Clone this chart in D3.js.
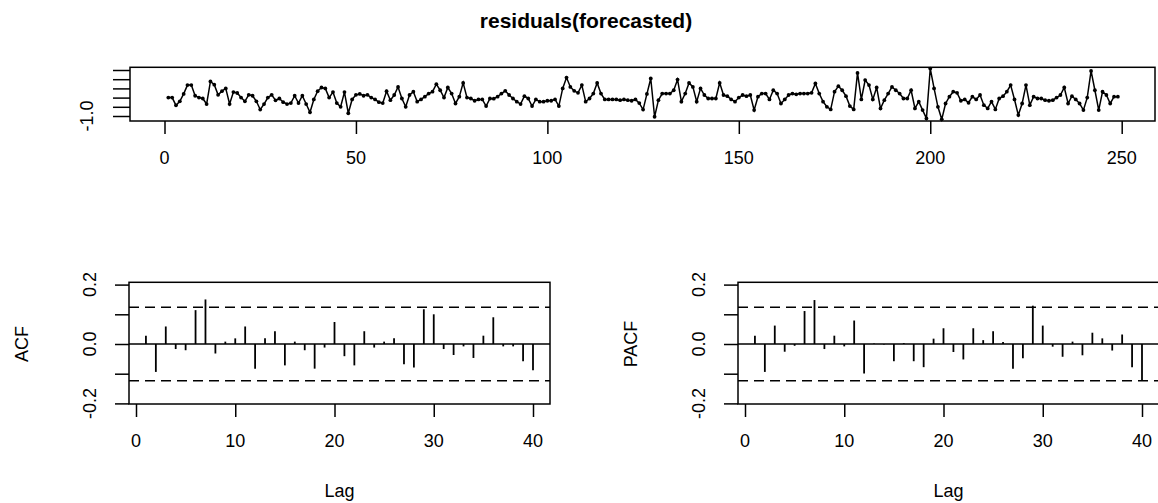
<!DOCTYPE html>
<html><head><meta charset="utf-8">
<script src="https://cdnjs.cloudflare.com/ajax/libs/d3/7.8.5/d3.min.js"></script>
<style>
html,body{margin:0;padding:0;background:#fff;}
svg{display:block;}
text{font-family:"Liberation Sans",Arial,Helvetica,sans-serif;fill:#000;}
</style></head>
<body><svg id="c" width="1158" height="503"></svg>
<script>
// ---------- data ----------
const titleText = "residuals(forecasted)";
const residuals = [
 0.00, 0.00,-0.42,-0.20, 0.20, 0.68, 0.68, 0.10, 0.00,-0.05,
-0.35, 0.88, 0.70, 0.15, 0.35, 0.50,-0.35, 0.30, 0.25, 0.00,
-0.20, 0.15, 0.10,-0.20,-0.65,-0.35, 0.00, 0.15,-0.15,-0.05,
-0.25,-0.35,-0.30, 0.10,-0.30, 0.10,-0.35,-0.80,-0.10, 0.35,
 0.55, 0.50, 0.00, 0.30,-0.30,-0.50, 0.30,-0.85,-0.10, 0.15,
 0.20, 0.10, 0.15, 0.00,-0.10,-0.25,-0.30, 0.35,-0.14, 0.14,
 0.58,-0.05,-0.50, 0.14, 0.32,-0.22,-0.10, 0.05, 0.22, 0.32,
 0.73, 0.40, 0.00, 0.55, 0.22,-0.32, 0.05, 0.80, 0.00,-0.05,
-0.17,-0.10,-0.10,-0.46,-0.05,-0.06, 0.05, 0.22, 0.37, 0.14,
-0.05,-0.22,-0.35, 0.08,-0.05,-0.46,-0.10,-0.22,-0.22,-0.17,
-0.17,-0.10,-0.46, 0.50, 1.09, 0.58, 0.37, 0.26, 0.68,-0.22,
-0.05, 0.22, 0.80, 0.22,-0.10,-0.10,-0.10,-0.10,-0.14,-0.10,
-0.14,-0.17,-0.10,-0.30,-0.65, 0.20, 1.04,-1.04,-0.14, 0.22,
 0.22, 0.22, 0.40, 0.98,-0.22, 0.22, 0.80, 0.58,-0.22, 0.50,
 0.14,-0.05,-0.05,-0.05, 0.80, 0.14, 0.08,-0.10,-0.22, 0.00,
 0.14, 0.08, 0.14,-0.68, 0.05, 0.22, 0.22,-0.10, 0.40, 0.22,
-0.32,-0.10, 0.14, 0.22, 0.18, 0.22, 0.22, 0.22, 0.26, 0.77,
 0.22,-0.22,-0.50,-0.64, 0.32, 0.62, 0.40, 0.08,-0.46,-0.64,
 1.34,-0.10, 0.95, 0.68,-0.10, 0.55,-0.59,-0.14, 0.22, 0.58,
 0.40, 0.22,-0.05,-0.05, 0.40,-0.59,-0.22,-0.68,-1.13, 1.58,
 0.50,-0.50,-1.18,-0.32, 0.05, 0.32, 0.26,-0.17,-0.10,-0.28,
 0.05,-0.10, 0.14,-0.41,-0.59,-0.22,-0.64,-0.05, 0.08, 0.32,
 0.68,-0.10,-0.95,-0.32, 0.68,-0.41, 0.05,-0.05,-0.05,-0.14,
-0.17,-0.14, 0.00, 0.14, 0.55,-0.32, 0.08,-0.10,-0.32,-0.68,
 0.00, 1.45, 0.40,-0.68, 0.32, 0.14,-0.32, 0.05, 0.05
];
const topXTicks = [0, 50, 100, 150, 200, 250];
const topYTicks = [-1.0, -0.5, 0.0, 0.5, 1.0, 1.5];
const topYLabels = ["-1.0", "", "", "", "", ""];

const lags = d3.range(1, 41);
const acfValues = [
 0.028,-0.094, 0.059,-0.017,-0.021, 0.114, 0.150,-0.032, 0.008, 0.019,
 0.059,-0.083, 0.019, 0.043,-0.072, 0.008,-0.021,-0.083,-0.012, 0.074,
-0.041,-0.072, 0.043,-0.012, 0.008, 0.019,-0.068,-0.079, 0.117, 0.100,
-0.017,-0.037,-0.008,-0.047, 0.028, 0.090,-0.008,-0.008,-0.058,-0.088
];
const pacfValues = [
 0.028,-0.094, 0.062,-0.026,-0.006, 0.111, 0.148,-0.017, 0.028,-0.008,
 0.079,-0.099, 0.002,-0.002,-0.058, 0.003,-0.058,-0.078, 0.018, 0.053,
-0.027,-0.052, 0.053, 0.013, 0.043, 0.007,-0.083,-0.048, 0.129, 0.062,
-0.009,-0.043, 0.008,-0.038, 0.038, 0.019,-0.022, 0.032,-0.078,-0.122
];
const ciBound = 1.96 / Math.sqrt(250);
const lagTicks = [0, 10, 20, 30, 40];
const corrTicks = [-0.2, -0.1, 0.0, 0.1, 0.2];
const corrLabels = ["-0.2", "", "0.0", "", "0.2"];

// ---------- drawing ----------
const svg = d3.select("#c");
const FS = 18;
const LW = 1.5;

svg.append("text").attr("x", 586).attr("y", 28).attr("text-anchor", "middle")
  .style("font-size", "21px").style("font-weight", "bold").text(titleText);

// ---- top panel ----
const topBox = {l:130, r:1155, t:67.3, b:121};
const xT = d3.scaleLinear().domain([0, 250]).range([164.5, 1121.7]);
const yT = d3.scaleLinear().domain([-1.0, 1.5]).range([116, 70]);

const gTop = svg.append("g");
const line = d3.line().x((d,i)=>xT(i+1)).y(d=>yT(d));
gTop.append("path").datum(residuals).attr("d", line)
  .attr("fill","none").attr("stroke","#000").attr("stroke-width",1.5);
gTop.selectAll("circle").data(residuals).join("circle")
  .attr("cx",(d,i)=>xT(i+1)).attr("cy",d=>yT(d)).attr("r",1.9).attr("fill","#000");
gTop.append("rect").attr("x",topBox.l).attr("y",topBox.t)
  .attr("width",topBox.r-topBox.l).attr("height",topBox.b-topBox.t)
  .attr("fill","none").attr("stroke","#000").attr("stroke-width",LW);

const axTB = gTop.append("g").attr("transform",`translate(0,${topBox.b})`)
  .call(d3.axisBottom(xT).tickValues(topXTicks).tickSize(13).tickSizeOuter(0).tickFormat(""));
const axTL = gTop.append("g").attr("transform",`translate(${topBox.l},0)`)
  .call(d3.axisLeft(yT).tickValues(topYTicks).tickSize(17).tickSizeOuter(0).tickFormat(""));
[axTB, axTL].forEach(a=>{a.select(".domain").remove(); a.selectAll("line").attr("stroke-width",LW);});
gTop.selectAll(".xl").data(topXTicks).join("text")
  .attr("x",d=>xT(d)).attr("y",164).attr("text-anchor","middle").style("font-size",FS+"px").text(d=>d);
gTop.selectAll(".yl").data(topYTicks.map((v,i)=>({v, s:topYLabels[i]})).filter(d=>d.s)).join("text")
  .attr("transform",d=>`translate(${93},${yT(d.v)}) rotate(-90)`)
  .attr("text-anchor","middle").style("font-size",FS+"px").text(d=>d.s);

// ---- correlogram panels ----
function corrPanel(off, values, ylabel) {
  const box = {l:129+off, r:550+off, t:282.3, b:404};
  const x = d3.scaleLinear().domain([0,40]).range([136+off, 533+off]);
  const y = d3.scaleLinear().domain([-0.2,0.2]).range([403.4, 284.6]);
  const g = svg.append("g");
  g.append("line").attr("x1",box.l).attr("x2",box.r).attr("y1",y(0)).attr("y2",y(0))
    .attr("stroke","#000").attr("stroke-width",LW);
  [ciBound, -ciBound].forEach(c=>{
    g.append("line").attr("x1",box.l).attr("x2",box.r).attr("y1",y(c)).attr("y2",y(c))
      .attr("stroke","#000").attr("stroke-width",LW).attr("stroke-dasharray","10,6");
  });
  g.selectAll(".sp").data(values).join("line")
    .attr("x1",(d,i)=>x(lags[i])).attr("x2",(d,i)=>x(lags[i]))
    .attr("y1",y(0)).attr("y2",d=>y(d))
    .attr("stroke","#000").attr("stroke-width",LW+0.3);
  g.append("rect").attr("x",box.l).attr("y",box.t).attr("width",box.r-box.l).attr("height",box.b-box.t)
    .attr("fill","none").attr("stroke","#000").attr("stroke-width",LW);
  const ab = g.append("g").attr("transform",`translate(0,${box.b})`)
    .call(d3.axisBottom(x).tickValues(lagTicks).tickSize(13).tickSizeOuter(0).tickFormat(""));
  const al = g.append("g").attr("transform",`translate(${box.l},0)`)
    .call(d3.axisLeft(y).tickValues(corrTicks).tickSize(14).tickSizeOuter(0).tickFormat(""));
  [ab, al].forEach(a=>{a.select(".domain").remove(); a.selectAll("line").attr("stroke-width",LW);});
  g.selectAll(".xl").data(lagTicks).join("text")
    .attr("x",d=>x(d)).attr("y",447).attr("text-anchor","middle").style("font-size",FS+"px").text(d=>d);
  g.selectAll(".yl").data(corrTicks.map((v,i)=>({v,s:corrLabels[i]})).filter(d=>d.s)).join("text")
    .attr("transform",d=>`translate(${96+off},${y(d.v)}) rotate(-90)`)
    .attr("text-anchor","middle").style("font-size",FS+"px").text(d=>d.s);
  g.append("text").attr("x",(box.l+box.r)/2).attr("y",497).attr("text-anchor","middle")
    .style("font-size",FS+"px").text("Lag");
  g.append("text").attr("transform",`translate(${28+off},${y(0)}) rotate(-90)`)
    .attr("text-anchor","middle").style("font-size",FS+"px").text(ylabel);
}
corrPanel(0, acfValues, "ACF");
corrPanel(609, pacfValues, "PACF");
</script></body></html>
